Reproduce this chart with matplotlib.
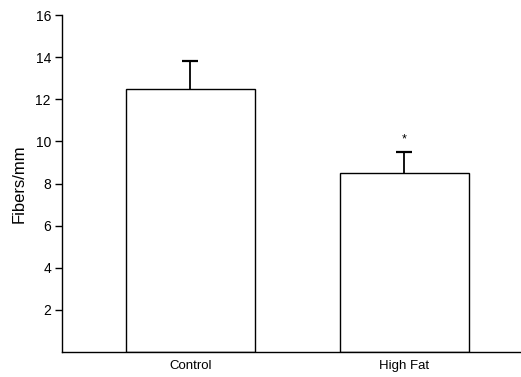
import numpy as np
import matplotlib.pyplot as plt

plt.rcParams['font.family'] = ['Liberation Sans', 'DejaVu Sans']

groups = ['Control', 'High Fat']
means = [12.5, 8.5]
errors = [1.3, 1.0]
stars = ['', '*']

fig = plt.figure(figsize=(5.21, 3.77), dpi=100)
ax = fig.add_axes([0.119, 0.066, 0.881, 0.894])

x = np.arange(len(groups))
tops = np.array(means) + np.array(errors)
ax.bar(x, means, width=0.6, color='white', edgecolor='black', linewidth=1.0, zorder=2)
# upper error only, no cap at the bar top
ax.errorbar(x, means, yerr=[np.zeros(len(errors)), errors], fmt='none',
            ecolor='black', elinewidth=1.3, capsize=0, zorder=3)
ax.plot(x, tops, linestyle='none', marker='_', markersize=11,
        markeredgewidth=1.6, color='black', zorder=3)
for xi, t, s in zip(x, tops, stars):
    if s:
        ax.text(xi, t + 0.6, s, ha='center', va='center', fontsize=9)

ax.set_xlim(-0.6, 1.545)
ax.set_ylim(0, 16)
ax.set_yticks(np.arange(2, 17, 2))
ax.set_xticks(x)
ax.set_xticklabels(groups, fontsize=9.5)
ax.tick_params(axis='y', labelsize=10, length=5, width=1, direction='out', pad=3)
ax.tick_params(axis='x', length=0, pad=6)
ax.set_ylabel('Fibers/mm', fontsize=12, labelpad=6)
ax.spines['top'].set_visible(False)
ax.spines['right'].set_visible(False)
ax.spines['left'].set_linewidth(1.0)
ax.spines['bottom'].set_linewidth(1.0)

fig.savefig('out.png', dpi=100)
